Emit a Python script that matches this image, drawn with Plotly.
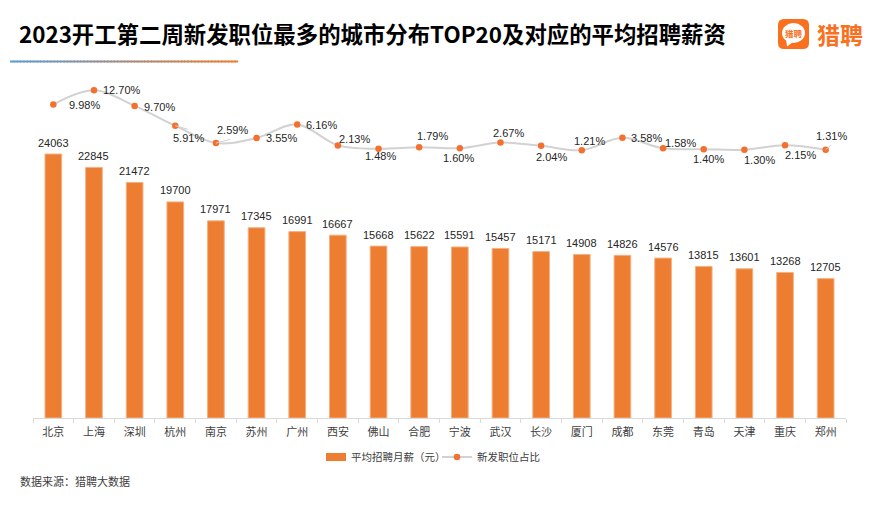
import plotly.graph_objects as go

W, H = 874, 505
cities = ["北京","上海","深圳","杭州","南京","苏州","广州","西安","佛山","合肥","宁波","武汉","长沙","厦门","成都","东莞","青岛","天津","重庆","郑州"]
salary = [24063,22845,21472,19700,17971,17345,16991,16667,15668,15622,15591,15457,15171,14908,14826,14576,13815,13601,13268,12705]
share = [9.98,12.70,9.70,5.91,2.59,3.55,6.16,2.13,1.48,1.79,1.60,2.67,2.04,1.21,3.58,1.58,1.40,1.30,2.15,1.31]
share_labels = ["9.98%","12.70%","9.70%","5.91%","2.59%","3.55%","6.16%","2.13%","1.48%","1.79%","1.60%","2.67%","2.04%","1.21%","3.58%","1.58%","1.40%","1.30%","2.15%","1.31%"]
label_offsets = [(31,-1),(28,0),(25,-1),(13,-12),(17,13),(25,0),(24,-1),(17,6),(2,-7),(13,11),(-1,-10),(8,10),(10,-11),(8,9),(24,0),(17,5),(5,-10),(15,-10),(15,-10),(6,14)]
leaders = {"杭州": (14, 4), "南京": (16, -4), "郑州": (7, -6)}

ORANGE = "#ED7D31"
DOT = "#F4702E"
GREY = "#D2D2D2"
TXT = "#262626"
FONT = "Noto Sans CJK SC"
BAR_NAME = "平均招聘月薪（元）"

def px(x): return x / W
def py(y): return 1 - y / H

fig = go.Figure()
fig.add_trace(go.Bar(x=cities, y=salary, name=BAR_NAME, marker=dict(color=ORANGE, line=dict(color="#F4B183", width=1)), width=0.41,
    showlegend=False))
# legend entry for the bars: a wide flat swatch like the reference
fig.add_trace(go.Scatter(x=[None], y=[None], name=BAR_NAME, mode="lines",
    line=dict(color=ORANGE, width=8, dash="0px,10px,20px,0px")))
fig.add_trace(go.Scatter(x=cities, y=share, name="新发职位占比", mode="lines+markers", yaxis="y2", legend="legend2",
    line=dict(color=GREY, width=2, shape="spline", smoothing=1.0),
    marker=dict(color=DOT, size=6.5), cliponaxis=False))

annots = []
for c, v in zip(cities, salary):
    annots.append(dict(x=c, y=v, xref="x", yref="y", text=str(v), showarrow=False, yanchor="middle", yshift=11.5,
        font=dict(size=11, color=TXT, family="Liberation Sans")))
for c, v, t, (dx, dy) in zip(cities, share, share_labels, label_offsets):
    annots.append(dict(x=c, y=v, xref="x", yref="y2", text=t, showarrow=False, xshift=dx, yshift=dy,
        font=dict(size=11, color=TXT, family="Liberation Sans")))
for c, (ax, ay) in leaders.items():
    annots.append(dict(x=c, y=share[cities.index(c)], xref="x", yref="y2", text=" ", showarrow=True, arrowhead=0,
        arrowwidth=1, arrowcolor=GREY, ax=ax, ay=ay, standoff=0, startstandoff=0, font=dict(size=1)))
annots.append(dict(x=px(16.5), y=py(33), xref="paper", yref="paper", xanchor="left", yanchor="middle", showarrow=False,
    text="2023开工第二周新发职位最多的城市分布TOP20及对应的平均招聘薪资",
    font=dict(size=22.4, color="#000000", family=FONT, weight="bold")))
annots.append(dict(x=px(18), y=py(481), xref="paper", yref="paper", xanchor="left", yanchor="middle", showarrow=False,
    text="数据来源：猎聘大数据", font=dict(size=11, color="#404040", family=FONT)))
annots.append(dict(x=px(815), y=py(34), xref="paper", yref="paper", xanchor="left", yanchor="middle", showarrow=False,
    text="猎聘", font=dict(size=23, color="#F9711F", family=FONT, weight="bold")))
annots.append(dict(x=px(793.5), y=py(33), xref="paper", yref="paper", xanchor="center", yanchor="middle", showarrow=False,
    text="猎聘", font=dict(size=8.5, color="#F9711F", family=FONT, weight="bold")))

shapes = []
n = 68
x0, x1 = 10, 238
c0, c1 = (91,155,213), (237,125,49)
for i in range(n):
    a = i / (n - 1)
    col = "rgb(%d,%d,%d)" % tuple(round(c0[k] + (c1[k] - c0[k]) * a) for k in range(3))
    shapes.append(dict(type="rect", xref="paper", yref="paper", x0=px(x0 + (x1 - x0) * i / n), x1=px(min(x0 + (x1 - x0) * (i + 1) / n + 1, x1)),
        y0=py(60.5), y1=py(62.5), fillcolor=col, line_width=0))
# logo tile
shapes.append(dict(type="path", xref="paper", yref="paper", fillcolor="#F9711F", line_width=0,
    path="M {} {} L {} {} Q {} {} {} {} L {} {} Q {} {} {} {} L {} {} Q {} {} {} {} L {} {} Q {} {} {} {} Z".format(
        px(784),py(19), px(803),py(19), px(809),py(19), px(809),py(25), px(809),py(43), px(809),py(49), px(803),py(49),
        px(784),py(49), px(778),py(49), px(778),py(43), px(778),py(25), px(778),py(19), px(784),py(19))))
# speech bubble
shapes.append(dict(type="circle", xref="paper", yref="paper", fillcolor="white", line_width=0,
    x0=px(782), x1=px(805), y0=py(43), y1=py(23)))
shapes.append(dict(type="path", xref="paper", yref="paper", fillcolor="white", line_width=0,
    path="M {} {} L {} {} L {} {} Z".format(px(786),py(39), px(787),py(46.5), px(793),py(42))))

leg_font = dict(size=10.5, color="#404040", family=FONT)
fig.update_layout(
    width=W, height=H, margin=dict(l=0, r=0, t=0, b=0), paper_bgcolor="white", plot_bgcolor="white",
    font=dict(family=FONT, size=10, color=TXT),
    xaxis=dict(domain=[px(33), px(846)], type="category", range=[-0.5, 19.5], showgrid=False, showline=True, linecolor="#D9D9D9", linewidth=1,
        ticks="outside", tickcolor="#D9D9D9", ticklen=4, tickson="boundaries", ticklabelstandoff=4,
        tickfont=dict(size=11, color="#404040", family=FONT)),
    yaxis=dict(domain=[py(418), py(80)], range=[0, 30811], visible=False),
    yaxis2=dict(domain=[py(418), py(80)], overlaying="y", side="right", range=[-50.14, 14.67], visible=False),
    showlegend=True,
    legend=dict(x=px(311), y=py(457), xanchor="left", yanchor="middle", font=leg_font, bgcolor="rgba(0,0,0,0)", itemwidth=30),
    legend2=dict(x=px(437), y=py(457), xanchor="left", yanchor="middle", font=leg_font, bgcolor="rgba(0,0,0,0)", itemwidth=30),
    annotations=annots, shapes=shapes,
)
fig.write_html("out.html", post_script="document.body.style.margin='0';", config={"displayModeBar": False})
